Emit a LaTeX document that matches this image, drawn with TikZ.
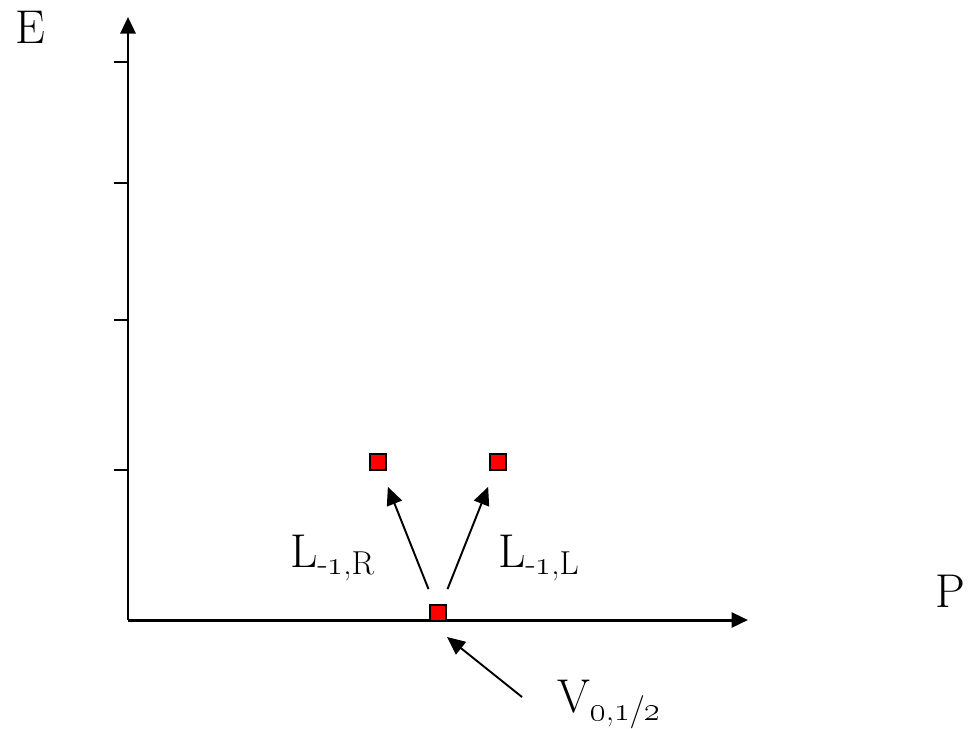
\RequirePackage{fix-cm}
\documentclass[tikz,border=0pt]{standalone}
\usetikzlibrary{arrows.meta, positioning, calc}
\definecolor{statered}{HTML}{FF0000}
\definecolor{axisink}{HTML}{000000}
\newcommand{\statebox}[3]{%
  \node[draw=axisink, line width=0.9pt, fill=statered, inner sep=0pt,
        minimum size=0.33cm] (#1) at (#2,#3) {};}

\begin{document}
\begin{tikzpicture}[x=0.02cm, y=-0.02cm, font=\fontsize{27}{32}\selectfont]
      \useasboundingbox (0,0) rectangle (970,728);
      % axes
      \coordinate (origin) at (128,620);
      \coordinate (etop) at (128,17);
      \coordinate (pend) at (748,620);
      \draw[line width=1.7pt, -{Triangle[length=0.33cm, width=0.3cm]}] (origin) -- (etop);
      \draw[line width=1.7pt, -{Triangle[length=0.33cm, width=0.3cm]}] (origin) -- (pend);
      \foreach \y in {62,183,320,470}
        \draw[line width=1.4pt] (114,\y) -- (128,\y);
      \node[anchor=base west, inner sep=0pt] (elab) at (15,43) {E};
      \node[anchor=base east, inner sep=0pt] (plab) at (966,607) {P};
      % states
      \statebox{lr}{378}{462}
      \statebox{ll}{498}{462}
      \statebox{v}{438}{613}
      \draw[-{Triangle[length=0.36cm, width=0.32cm]}, line width=1.1pt,
            shorten <=0.32cm, shorten >=0.34cm] (v) -- (lr);
      \draw[-{Triangle[length=0.36cm, width=0.32cm]}, line width=1.1pt,
            shorten <=0.32cm, shorten >=0.34cm] (v) -- (ll);
      \coordinate (vtail) at (522,697);
      \coordinate (vhead) at (447,637);
      \draw[-{Triangle[length=0.36cm, width=0.32cm]}, line width=1.1pt] (vtail) -- (vhead);
      % labels
      \node[anchor=base west, inner sep=0pt] (lrlab) at (290,567)
        {L\textsubscript{-\oldstylenums{1},R}};
      \node[anchor=base west, inner sep=0pt] (lllab) at (498,567)
        {L\textsubscript{-\oldstylenums{1},L}};
      \node[anchor=base west, inner sep=0pt] (vlab) at (557,712)
        {V\textsubscript{\oldstylenums{0},\oldstylenums{1}/\oldstylenums{2}}};
    \end{tikzpicture}
\end{document}
